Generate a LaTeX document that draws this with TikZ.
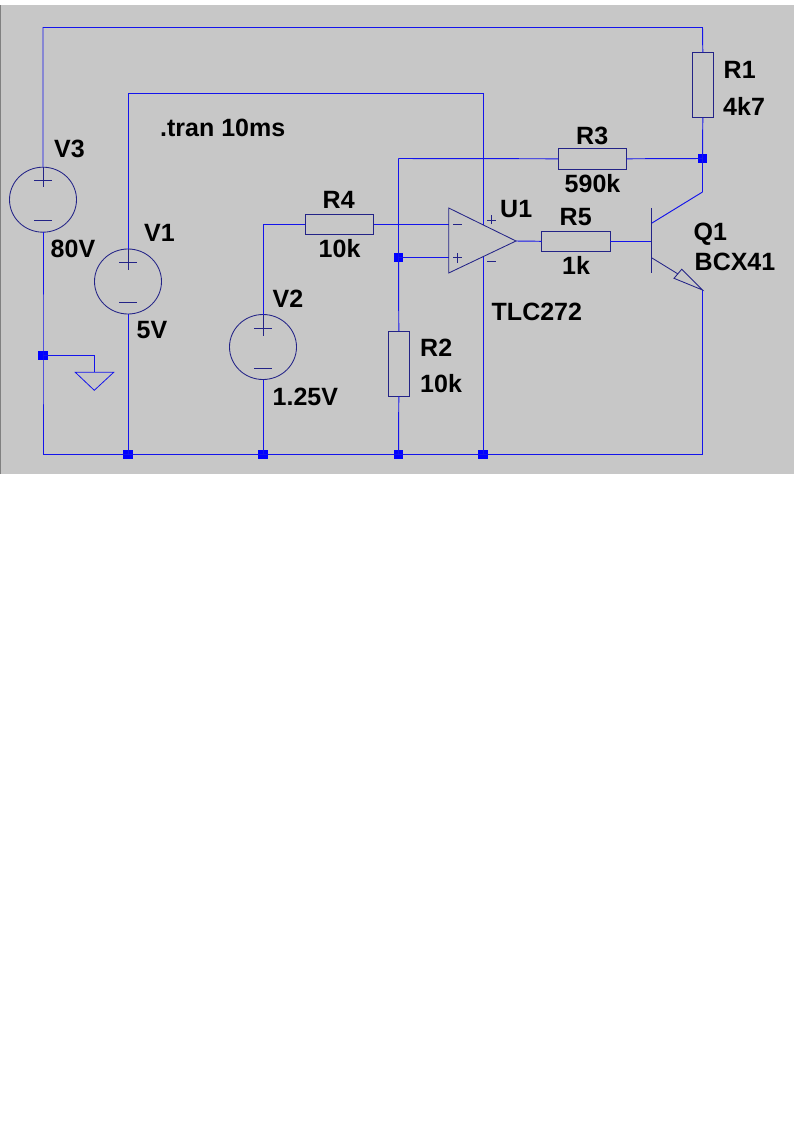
\documentclass[tikz,border=0pt]{standalone}
\usepackage{fontspec}
\setmainfont{Liberation Sans}
\usetikzlibrary{shapes.geometric}
\definecolor{bgc}{RGB}{199,199,199}
\definecolor{wirec}{RGB}{20,20,235}
\definecolor{partc}{RGB}{35,35,135}
\tikzset{
  wire/.style={draw=wirec,line width=0.95pt},
  part/.style={draw=partc,line width=0.85pt},
  res/.style={rectangle,part,inner sep=0pt,outer sep=0pt},
  hres/.style={res,minimum width=68.5pt,minimum height=20.5pt},
  vres/.style={res,minimum width=21pt,minimum height=65.5pt},
  vsrc/.style={ellipse,part,inner sep=0pt,outer sep=0pt,minimum width=67pt,minimum height=65pt},
  dot/.style={rectangle,fill=blue,inner sep=0pt,outer sep=0pt,minimum size=9.5pt},
  lab/.style={anchor=base west,inner sep=0pt,yshift=-0.8pt,font=\fontsize{25}{27}\selectfont\bfseries,text=black}
}
\begin{document}
\begin{tikzpicture}[x=1pt,y=-1pt]
\useasboundingbox (0,0) rectangle (794,1123);
\fill[white] (0,0) rectangle (794,1123);
\fill[bgc] (1,5) rectangle (794,474);
\draw[gray,line width=1pt] (0.7,5) -- (0.7,474);
% components
\node[vsrc] (V3) at (43,199.7) {};
\node[vsrc] (V1) at (128,281.5) {};
\node[vsrc] (V2) at (263,347) {};
\node[vres] (R1) at (702.8,85) {};
\node[vres] (R2) at (398.8,363.7) {};
\node[hres] (R3) at (592.3,158.8) {};
\node[hres] (R4) at (339.5,224.3) {};
\node[hres] (R5) at (575.8,241.3) {};
% coordinates
\coordinate (tl) at (43,27.5);
\coordinate (tr) at (702.5,27.5);
\coordinate (v1t) at (128,93.5);
\coordinate (u1t) at (483,93.5);
\coordinate (u1a) at (483,224.7);
\coordinate (u1b) at (483,257);
\coordinate (br) at (702.5,454.3);
\coordinate (bl) at (43,454.3);
\coordinate (fbl) at (398.5,158.5);
\coordinate (v2t) at (263,224.3);
\coordinate (qc) at (702.5,192);
\coordinate (qe) at (702.5,290);
\coordinate (cin) at (652,223);
\coordinate (ein) at (652,258);
\coordinate (earr) at (678,274);
\coordinate (ua) at (448.7,208);
\coordinate (ub) at (448.7,273);
\coordinate (uo) at (516,241);
\coordinate (um) at (448.7,224.3);
\coordinate (up) at (448.7,257.5);
\coordinate (qb) at (651.7,241.3);
\coordinate (gw) at (94.3,355.3);
\coordinate (gt) at (94.3,372.3);
% junctions
\node[dot] (J1) at (43,355.3) {};
\node[dot] (J2) at (128,454.3) {};
\node[dot] (J3) at (263,454.3) {};
\node[dot] (J4) at (398.5,454.3) {};
\node[dot] (J5) at (483,454.3) {};
\node[dot] (J6) at (398.5,257.5) {};
\node[dot] (J7) at (702.5,158.5) {};
% wires
\draw[wire] (V3.north) -- (tl) -- (tr) -- (R1.north);
\draw[wire] (R1.south) -- (J7.center) -- (qc);
\draw[wire] (V1.north) -- (v1t) -- (u1t) -- (u1a);
\draw[wire] (u1b) -- (J5.center);
\draw[wire] (V3.south) -- (J1.center) -- (bl) -- (br) -- (qe);
\draw[wire] (V1.south) -- (J2.center);
\draw[wire] (V2.south) -- (J3.center);
\draw[wire] (V2.north) -- (v2t) -- (R4.west);
\draw[wire] (R4.east) -- (um);
\draw[wire] (fbl) -- (R3.west);
\draw[wire] (R3.east) -- (J7.center);
\draw[wire] (fbl) -- (J6.center) -- (R2.north);
\draw[wire] (R2.south) -- (J4.center);
\draw[wire] (J6.center) -- (up);
\draw[wire] (uo) -- (R5.west);
\draw[wire] (R5.east) -- (qb);
\draw[wire] (J1.center) -- (gw) -- (gt);
% ground
\draw[wire,line width=0.8pt] (75.3,372.3) -- (113.7,372.3) -- (94.3,390.3) -- cycle;
% source signs
\draw[part,line width=0.7pt] (V3.north) -- (43,187) (34,180) -- (52,180) (34,220) -- (52,220);
\draw[part,line width=0.7pt] (V1.north) -- (128,270) (119,262) -- (137,262) (119,302.7) -- (137,302.7);
\draw[part,line width=0.7pt] (V2.north) -- (263,335.5) (254,328) -- (272,328) (254,368.7) -- (272,368.7);
% op amp
\draw[part] (ua) -- (uo) -- (ub) -- cycle;
\draw[part,line width=0.7pt] (453,224.7) -- (462,224.7) (453,257.7) -- (462,257.7) (457.5,253) -- (457.5,262.5);
\draw[part,line width=0.7pt] (487,220) -- (496,220) (491.5,215.5) -- (491.5,224.5) (487,261) -- (496,261);
% transistor
\draw[part] (651.7,208) -- (651.7,273);
\draw[wire] (cin) -- (qc);
\draw[part] (ein) -- (earr);
\draw[part] (qe) -- (681.7,269.3) -- (674,278.3) -- cycle;
% labels
\node[lab] (tR1) at (723.5,77.7) {R1};
\node[lab] (v4k7) at (723,115) {4k7};
\node[lab] (tR3) at (576,144) {R3};
\node[lab] (v590k) at (564.5,191.7) {590k};
\node[lab] (tU1) at (500,216.7) {U1};
\node[lab] (tR5) at (559.5,224.3) {R5};
\node[lab] (v1k) at (562,273.3) {1k};
\node[lab] (tQ1) at (693.5,240) {Q1};
\node[lab] (vQ1) at (694.5,270) {BCX41};
\node[lab] (vU1) at (491.5,320) {TLC272};
\node[lab] (tR4) at (322.5,208) {R4};
\node[lab] (vR4) at (318.5,256.7) {10k};
\node[lab] (tV2) at (272.5,306.7) {V2};
\node[lab] (vV2) at (272.5,404.3) {1.25V};
\node[lab] (tR2) at (420,356) {R2};
\node[lab] (vR2) at (420,392) {10k};
\node[lab] (tV3) at (54,156.7) {V3};
\node[lab] (vV3) at (50.5,256.7) {80V};
\node[lab] (tV1) at (144,241) {V1};
\node[lab] (vV1) at (136.5,338) {5V};
\node[lab] (cmd) at (160,136) {.tran 10ms};
\end{tikzpicture}
\end{document}
